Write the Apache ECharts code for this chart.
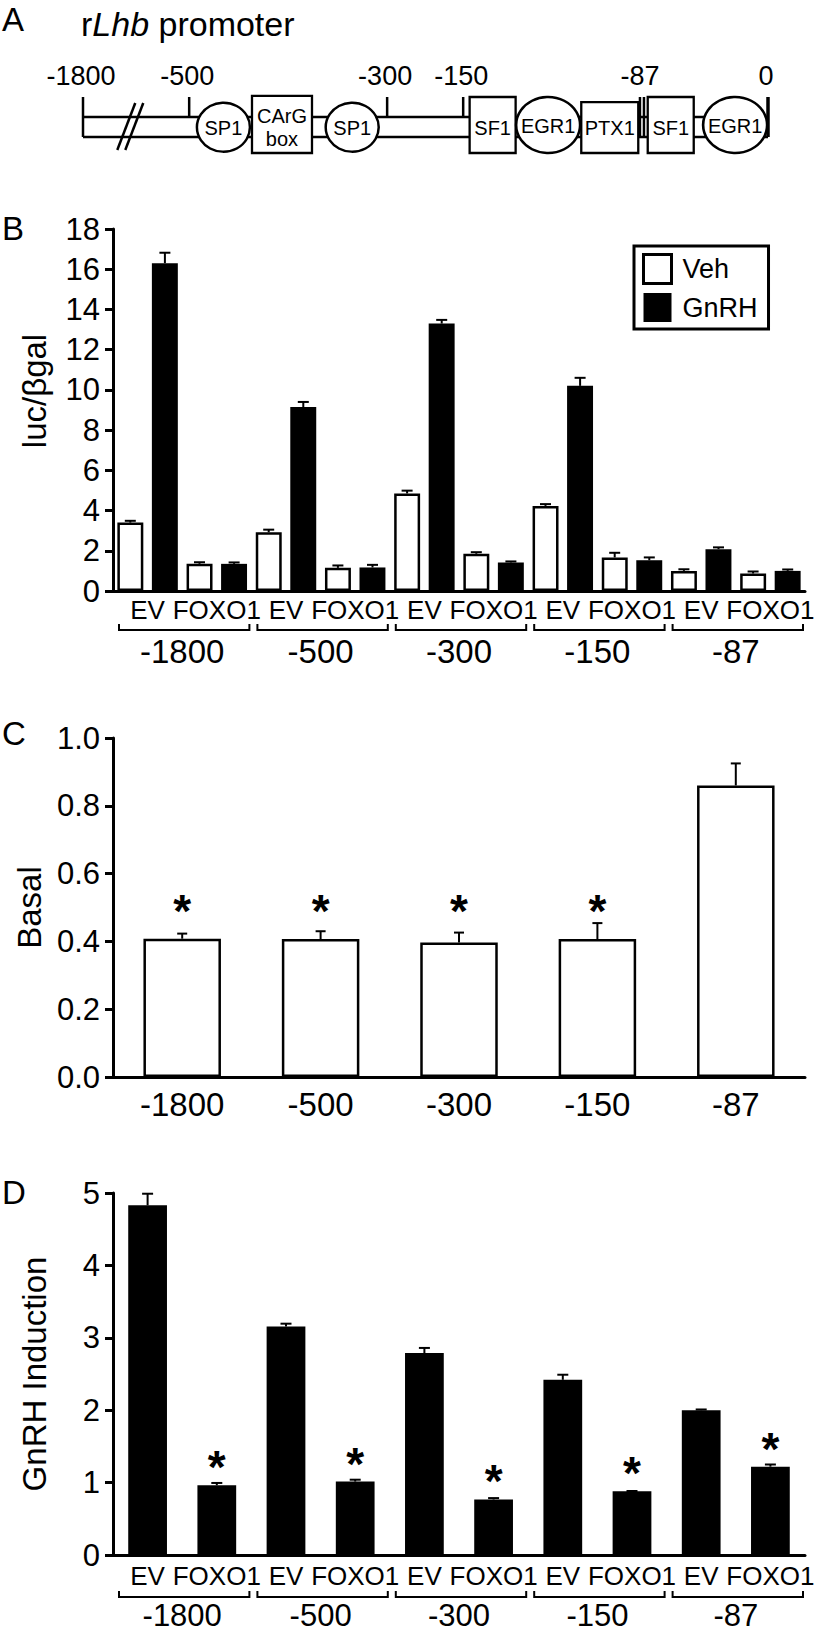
<!DOCTYPE html>
<html><head><meta charset="utf-8">
<script src="https://cdn.jsdelivr.net/npm/echarts@6/dist/echarts.min.js"></script>
<style>html,body{margin:0;padding:0;background:#fff}#c{width:816px;height:1632px}</style>
</head><body><div id="c"></div>
<script>
// ---------------- data ----------------
// Panel A: promoter schematic (positions in schematic units 0..100)
const promoterMarks = ['-1800', '-500', '-300', '-150', '-87', '0'];
const promoterMarkPos = [0, 15.5, 44.4, 55.5, 81.6, 100];
const promoterElements = ['SP1', 'CArG\nbox', 'SP1', 'SF1', 'EGR1', 'PTX1', 'SF1', 'EGR1'];
const promoterElementPos = [20.5, 29.05, 39.3, 59.8, 67.9, 76.9, 85.8, 95.2];
const breakPos = 6.9;

// shared categories
const constructs = ['-1800', '-500', '-300', '-150', '-87'];
const vectors = ['EV', 'FOXO1'];
const vectorCats = constructs.flatMap(() => vectors); // EV, FOXO1 per construct

// Panel B: luc/βgal (order: -1800 EV, -1800 FOXO1, -500 EV, ...)
const vehB     = [3.40, 1.35, 2.92, 1.15, 4.85, 1.85, 4.23, 1.67, 1.00, 0.87];
const vehBErr  = [0.09, 0.08, 0.13, 0.12, 0.14, 0.08, 0.09, 0.23, 0.08, 0.10];
const gnrhB    = [16.3, 1.35, 9.15, 1.17, 13.3, 1.42, 10.2, 1.53, 2.08, 1.00];
const gnrhBErr = [0.52, 0.07, 0.25, 0.13, 0.18, 0.05, 0.40, 0.14, 0.09, 0.07];

// Panel C: Basal
const basalC    = [0.408, 0.407, 0.397, 0.407, 0.860];
const basalCErr = [0.015, 0.023, 0.029, 0.047, 0.065];
const basalCSig = [true, true, true, true, false];

// Panel D: GnRH induction
const indEV      = [4.83, 3.155, 2.79, 2.42, 2.00];
const indEVErr   = [0.16, 0.04, 0.07, 0.07, 0.01];
const indFOXO    = [0.963, 1.014, 0.767, 0.880, 1.22];
const indFOXOErr = [0.032, 0.026, 0.019, 0.004, 0.03];
const indFOXOSig = [true, true, true, true, true];

// ---------------- helpers ----------------
const FF = "'Liberation Sans', Arial, Helvetica, sans-serif";
const BLACK = '#000';
const indD = constructs.flatMap((c, i) => [indEV[i], indFOXO[i]]);
const indDErr = constructs.flatMap((c, i) => [indEVErr[i], indFOXOErr[i]]);
const indDSig = constructs.flatMap((c, i) => [false, indFOXOSig[i]]);

function errSeries(xIdx, yIdx, vals, errs, offsetFrac, cap) {
  return {
    type: 'custom', xAxisIndex: xIdx, yAxisIndex: yIdx, z: 5, silent: true, clip: false,
    data: vals.map((v, i) => [i, v, v + errs[i]]),
    renderItem: (p, api) => {
      const i = api.value(0);
      const band = api.size([1, 0])[0];
      const top = api.coord([i, api.value(1)]);
      const hi = api.coord([i, api.value(2)]);
      const x = top[0] + offsetFrac * band;
      return { type: 'group', children: [
        { type: 'line', shape: { x1: x, y1: top[1], x2: x, y2: hi[1] }, style: { stroke: BLACK, lineWidth: 2 } },
        { type: 'line', shape: { x1: x - cap / 2, y1: hi[1], x2: x + cap / 2, y2: hi[1] }, style: { stroke: BLACK, lineWidth: 2 } }
      ]};
    }
  };
}

function starSeries(xIdx, yIdx, vals, sig, mode) {
  const data = [];
  vals.forEach((v, i) => { if (sig[i]) data.push([i, v]); });
  return {
    type: 'custom', xAxisIndex: xIdx, yAxisIndex: yIdx, z: 6, silent: true, clip: false,
    data,
    renderItem: (p, api) => {
      const i = api.value(0);
      let pt;
      if (mode === 'fixed') pt = api.coord([i, 0.52]);
      else { pt = api.coord([i, api.value(1)]); pt = [pt[0], pt[1] - 28]; }
      return { type: 'text', x: pt[0], y: pt[1] + 10,
        style: { text: '*', fontSize: 46, fontWeight: 'bold', fontFamily: FF, fill: BLACK, align: 'center', verticalAlign: 'middle' } };
    }
  };
}

function bracketSeries(xIdx, yIdx, off) {
  return {
    type: 'custom', xAxisIndex: xIdx, yAxisIndex: yIdx, z: 5, silent: true, clip: false,
    data: constructs.map((c, i) => [i, 0]),
    renderItem: (p, api) => {
      const i = api.value(0);
      const c = api.coord([i, 0]);
      const band = api.size([1, 0])[0];
      const y = c[1] + off;
      const x0 = c[0] - band / 2 + 6, x1 = c[0] + band / 2 - 2;
      return { type: 'polyline', shape: { points: [[x0, y - 6], [x0, y], [x1, y], [x1, y - 6]] },
        style: { stroke: BLACK, lineWidth: 2, fill: null } };
    }
  };
}

function yAxisCfg(gridIndex, max, interval, name, decimals, namePad) {
  return {
    type: 'value', gridIndex, min: 0, max, interval,
    name, nameLocation: 'middle', nameGap: 62, nameRotate: 90,
    nameTextStyle: { fontSize: 33, fontFamily: FF, color: BLACK, padding: namePad || 0 },
    axisLine: { show: true, lineStyle: { color: BLACK, width: 3 } },
    axisTick: { show: true, inside: false, length: 8, lineStyle: { color: BLACK, width: 3 } },
    axisLabel: { fontSize: 31, fontFamily: FF, color: BLACK, margin: 13,
      formatter: v => v.toFixed(decimals) },
    splitLine: { show: false }
  };
}

function catAxis(gridIndex, data, opts) {
  return Object.assign({
    type: 'category', gridIndex, data, position: 'bottom',
    axisLine: { show: true, lineStyle: { color: BLACK, width: 3 } },
    axisTick: { show: false },
    axisLabel: { interval: 0, fontSize: 26, fontFamily: FF, color: BLACK, margin: 6, lineHeight: 26 },
    splitLine: { show: false }
  }, opts);
}

function groupAxis(gridIndex, offset, margin, size) {
  return {
    type: 'category', gridIndex, data: constructs, position: 'bottom', offset,
    axisLine: { show: false }, axisTick: { show: false },
    axisLabel: { interval: 0, fontSize: size, fontFamily: FF, color: BLACK, margin, lineHeight: size },
    splitLine: { show: false }
  };
}

// Panel A renderer (schematic drawn in the hidden grid's scale)
const elementStyle = {
  'SP1': { kind: 'ellipse', rx: 26.5, ry: 24.5, cy: 0.54 },
  'EGR1': { kind: 'ellipse', rx: 32, ry: 28, cy: 0.5 },
  'CArG\nbox': { kind: 'rect', w: 60, top: -0.02 },
  'SF1': { kind: 'rect', w: 46, top: 0 },
  'PTX1': { kind: 'rect', w: 57, top: 0.09 }
};
function renderPromoter(p, api) {
  const yTop = api.coord([0, 1])[1], yBot = api.coord([0, 0])[1];
  const H = yBot - yTop;
  const X = v => api.coord([v, 0])[0];
  const lt = yTop + 0.357 * H, lb = yTop + 0.714 * H;
  const st = { stroke: BLACK, lineWidth: 2.5 };
  const ch = [];
  ch.push({ type: 'line', shape: { x1: X(0), y1: lt, x2: X(100), y2: lt }, style: st });
  ch.push({ type: 'line', shape: { x1: X(0), y1: lb, x2: X(100), y2: lb }, style: st });
  promoterMarkPos.forEach((m, k) => {
    const end = (k === 0 || k === promoterMarkPos.length - 1);
    const x = X(m);
    if (promoterMarks[k] === '-87') {
      [-2, 2].forEach(d => ch.push({ type: 'line', shape: { x1: x + d, y1: yTop, x2: x + d, y2: lb }, style: st }));
    } else {
      ch.push({ type: 'line', shape: { x1: x, y1: yTop, x2: x, y2: end ? lb : lt },
        style: { stroke: BLACK, lineWidth: end && k > 0 ? 3.5 : 2.5 } });
    }
    ch.push({ type: 'text', x: x - 2, y: yTop - 21,
      style: { text: promoterMarks[k], fontSize: 27, fontFamily: FF, fill: BLACK, align: 'center', verticalAlign: 'middle' } });
  });
  // break marks
  const bx = X(breakPos);
  [-4, 4].forEach(d => ch.push({ type: 'line',
    shape: { x1: bx + d - 9, y1: yBot - 3, x2: bx + d + 9, y2: yTop + 6 }, style: st }));
  promoterElements.forEach((name, k) => {
    const s = elementStyle[name];
    const cx = X(promoterElementPos[k]);
    if (s.kind === 'ellipse') {
      const cy = yTop + s.cy * H;
      ch.push({ type: 'circle', x: cx, y: cy, scaleX: s.rx / s.ry, shape: { cx: 0, cy: 0, r: s.ry },
        style: { fill: '#fff', stroke: BLACK, lineWidth: 2.3 } });
      ch.push({ type: 'text', x: cx, y: cy + 1,
        style: { text: name, fontSize: 20, fontFamily: FF, fill: BLACK, align: 'center', verticalAlign: 'middle' } });
    } else {
      const top = yTop + s.top * H;
      ch.push({ type: 'rect', shape: { x: cx - s.w / 2, y: top, width: s.w, height: yBot - top },
        style: { fill: '#fff', stroke: BLACK, lineWidth: 2.3 } });
      ch.push({ type: 'text', x: cx, y: (lt + lb) / 2 + 1,
        style: { text: name, fontSize: 20, fontFamily: FF, fill: BLACK, align: 'center', verticalAlign: 'middle', lineHeight: 23 } });
    }
  });
  return { type: 'group', children: ch };
}

function letter(t, top) {
  return { text: t, left: 2, top, padding: 0,
    textStyle: { fontSize: 33, fontWeight: 'normal', fontFamily: FF, color: BLACK, lineHeight: 36 } };
}

const option = {
  backgroundColor: '#fff',
  animation: false,
  title: [
    letter('A', 1), letter('B', 210), letter('C', 715), letter('D', 1174),
    { text: '{n|r}{i|Lhb}{n| promoter}', left: 81, top: 5, padding: 0,
      textStyle: { fontSize: 34, fontWeight: 'normal', fontFamily: FF, color: BLACK, lineHeight: 38,
        rich: { n: { fontSize: 34, fontFamily: FF, color: BLACK, lineHeight: 38 },
                i: { fontSize: 34, fontFamily: FF, color: BLACK, fontStyle: 'italic', lineHeight: 38 } } } }
  ],
  legend: {
    orient: 'vertical', left: 634, top: 246, padding: [7, 11, 7, 8],
    borderColor: BLACK, borderWidth: 3, backgroundColor: '#fff',
    itemWidth: 28, itemHeight: 29, itemGap: 8, icon: 'rect', selectedMode: false,
    textStyle: { fontSize: 27, fontFamily: FF, color: BLACK, padding: [0, 0, 0, 6] },
    data: [
      { name: 'Veh', itemStyle: { color: '#fff', borderColor: BLACK, borderWidth: 3 } },
      { name: 'GnRH', itemStyle: { color: BLACK, borderWidth: 0 } }
    ]
  },
  grid: [
    { left: 113, right: 11, top: 229, height: 362, outerBoundsMode: 'none' },
    { left: 113, right: 11, top: 738, height: 339, outerBoundsMode: 'none' },
    { left: 113, right: 11, top: 1193, height: 362, outerBoundsMode: 'none' },
    { left: 83, width: 685, top: 97, height: 56, outerBoundsMode: 'none' }
  ],
  xAxis: [
    catAxis(0, vectorCats),
    groupAxis(0, 39, 5, 33),
    catAxis(1, constructs, { axisLabel: { interval: 0, fontSize: 33, fontFamily: FF, color: BLACK, margin: 11, lineHeight: 33 } }),
    catAxis(2, vectorCats, { axisLabel: { interval: 0, fontSize: 26, fontFamily: FF, color: BLACK, margin: 8, lineHeight: 26 } }),
    groupAxis(2, 42, 3, 31),
    { type: 'value', gridIndex: 3, min: 0, max: 100, show: false }
  ],
  yAxis: [
    yAxisCfg(0, 18, 2, 'luc/βgal', 0, [0, 0, 0, 38]),
    yAxisCfg(1, 1, 0.2, 'Basal', 1),
    yAxisCfg(2, 5, 1, 'GnRH Induction', 0),
    { type: 'value', gridIndex: 3, min: 0, max: 1, show: false }
  ],
  series: [
    { name: 'Veh', type: 'bar', xAxisIndex: 0, yAxisIndex: 0, data: vehB, barWidth: '37.5%', barGap: '33%',
      itemStyle: { color: '#fff', borderColor: BLACK, borderWidth: 2.5 } },
    { name: 'GnRH', type: 'bar', xAxisIndex: 0, yAxisIndex: 0, data: gnrhB, barWidth: '37.5%', barGap: '33%',
      itemStyle: { color: BLACK } },
    errSeries(0, 0, vehB, vehBErr, -0.25, 11),
    errSeries(0, 0, gnrhB, gnrhBErr, 0.25, 11),
    bracketSeries(1, 0, 39),

    { name: 'Basal', type: 'bar', xAxisIndex: 2, yAxisIndex: 1, data: basalC, barWidth: '56%',
      itemStyle: { color: '#fff', borderColor: BLACK, borderWidth: 2.5 } },
    errSeries(2, 1, basalC, basalCErr, 0, 10),
    starSeries(2, 1, basalC, basalCSig, 'fixed'),

    { name: 'Induction', type: 'bar', xAxisIndex: 3, yAxisIndex: 2, data: indD, barWidth: '56%',
      itemStyle: { color: BLACK } },
    errSeries(3, 2, indD, indDErr, 0, 11),
    starSeries(3, 2, indD, indDSig, 'bar'),
    bracketSeries(4, 2, 42),

    { type: 'custom', xAxisIndex: 5, yAxisIndex: 3, data: [[0, 0]], clip: false, silent: true,
      renderItem: renderPromoter }
  ]
};

const chart = echarts.init(document.getElementById('c'), null, { renderer: 'svg' });
chart.setOption(option);
</script>
</body></html>
